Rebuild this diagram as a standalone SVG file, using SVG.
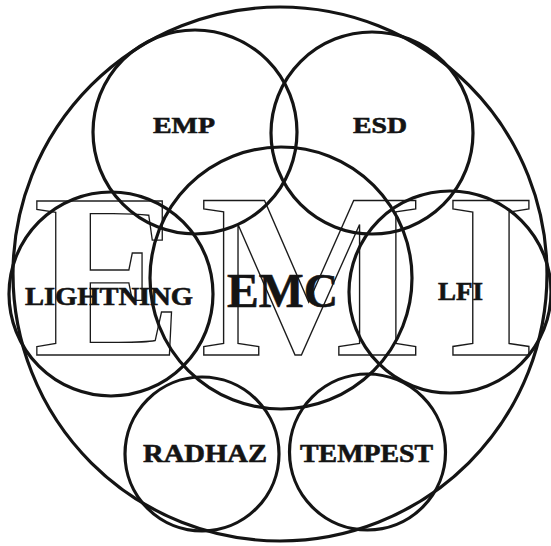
<svg xmlns="http://www.w3.org/2000/svg" width="551" height="546" viewBox="0 0 551 546">
  <style>
    .ring { fill: none; stroke: #141414; stroke-width: 3.2; }
    .big { font-family: "Liberation Serif", "Times New Roman", serif; font-weight: bold; font-size: 236px; fill: none; stroke: #1a1a1a; stroke-width: 1.4; text-anchor: middle; }
    .lbl { font-family: "Liberation Serif", "Times New Roman", serif; font-weight: bold; fill: #141414; stroke: #141414; stroke-width: 0.6; }
    .s23 { font-size: 23px; }
    .s26 { font-size: 26px; }
    .s48 { font-size: 48px; }
  </style>
  <rect width="551" height="546" fill="#ffffff"/>
  <g id="emi-letters">
    <text class="big" x="108" y="355" textLength="150" lengthAdjust="spacingAndGlyphs">E</text>
    <text class="big" x="311" y="355">M</text>
    <text class="big" x="491" y="355">I</text>
  </g>
  <g id="connectors"/>
  <g id="EMI">
    <circle class="ring" cx="280" cy="274" r="267"/>
  </g>
  <g id="EMP">
    <circle class="ring" cx="195" cy="132" r="102"/>
    <text class="lbl s23" x="153" y="133" textLength="62" lengthAdjust="spacingAndGlyphs">EMP</text>
  </g>
  <g id="ESD">
    <circle class="ring" cx="372" cy="133" r="101"/>
    <text class="lbl s23" x="353" y="133" textLength="54" lengthAdjust="spacingAndGlyphs">ESD</text>
  </g>
  <g id="LIGHTNING">
    <circle class="ring" cx="111" cy="294" r="102"/>
    <text class="lbl s26" x="25" y="305" textLength="168" lengthAdjust="spacingAndGlyphs">LIGHTNING</text>
  </g>
  <g id="EMC">
    <circle class="ring" cx="281" cy="278" r="131"/>
    <text class="lbl s48" x="227" y="307" textLength="111" lengthAdjust="spacingAndGlyphs">EMC</text>
  </g>
  <g id="LFI">
    <circle class="ring" cx="450" cy="292" r="101"/>
    <text class="lbl s26" x="438" y="300" textLength="45" lengthAdjust="spacingAndGlyphs">LFI</text>
  </g>
  <g id="RADHAZ">
    <circle class="ring" cx="202" cy="454" r="77"/>
    <text class="lbl s26" x="143" y="462" textLength="124" lengthAdjust="spacingAndGlyphs">RADHAZ</text>
  </g>
  <g id="TEMPEST">
    <circle class="ring" cx="367.5" cy="452" r="78"/>
    <text class="lbl s26" x="300" y="462" textLength="133" lengthAdjust="spacingAndGlyphs">TEMPEST</text>
  </g>
</svg>
